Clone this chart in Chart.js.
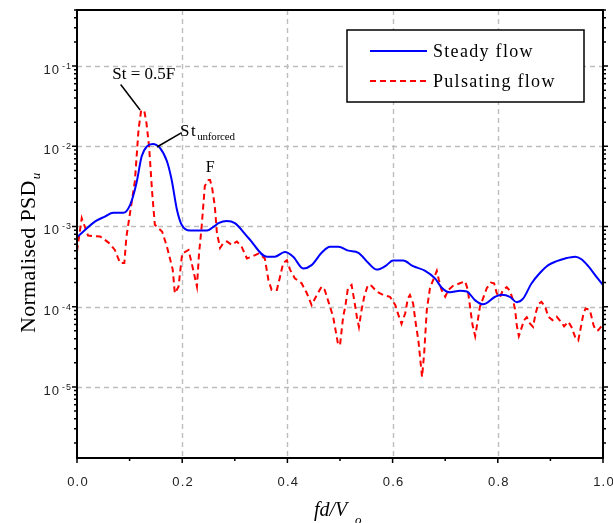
<!DOCTYPE html>
<html>
<head>
<meta charset="utf-8">
<script src="https://cdn.jsdelivr.net/npm/chart.js@4.4.1/dist/chart.umd.min.js"></script>
<style>
    html, body { margin: 0; padding: 0; background: #fff; }
</style>
</head>
<body>
<canvas id="psdChart" width="613" height="523"></canvas>
<script>
// Steady flow (solid blue)
const steadyX = [0.000,0.009,0.034,0.053,0.069,0.088,0.101,0.113,0.123,0.133,0.144,0.158,0.171,0.180,0.190,0.199,0.215,0.247,0.262,0.269,0.285,0.300,0.326,0.361,0.376,0.395,0.411,0.430,0.446,0.465,0.481,0.497,0.516,0.535,0.554,0.570,0.586,0.601,0.620,0.639,0.662,0.681,0.693,0.709,0.728,0.741,0.757,0.772,0.795,0.807,0.823,0.836,0.848,0.864,0.880,0.896,0.912,0.928,0.947,0.959,0.972,0.988,1.000];
const steadyY = [7.4e-4,8.3e-4,1.15e-3,1.33e-3,1.48e-3,1.48e-3,1.86e-3,3.47e-3,7.5e-3,1.0e-2,1.07e-2,9.5e-3,6.5e-3,3.8e-3,1.62e-3,1.05e-3,8.9e-4,8.9e-4,1.02e-3,1.1e-3,1.17e-3,1.1e-3,7.2e-4,4.2e-4,4.2e-4,4.8e-4,4.2e-4,3.0e-4,3.3e-4,4.7e-4,5.6e-4,5.6e-4,5.0e-4,4.7e-4,3.5e-4,2.9e-4,3.2e-4,3.76e-4,3.76e-4,3.2e-4,2.8e-4,2.24e-4,1.74e-4,1.51e-4,1.58e-4,1.55e-4,1.2e-4,1.07e-4,1.33e-4,1.41e-4,1.33e-4,1.14e-4,1.26e-4,1.95e-4,2.63e-4,3.3e-4,3.7e-4,4.0e-4,4.2e-4,3.9e-4,3.2e-4,2.34e-4,1.86e-4];

// Pulsating flow (dashed red)
const pulsX = [0.000,0.009,0.021,0.044,0.060,0.072,0.082,0.090,0.094,0.101,
    0.110,0.117,0.122,0.128,0.132,0.137,0.143,0.148,0.162,0.171,
    0.182,0.186,0.193,0.200,0.212,0.218,0.228,0.232,0.237,0.243,
    0.250,0.253,0.257,0.262,0.266,0.272,0.278,0.285,0.294,0.304,
    0.313,0.323,0.332,0.345,0.357,0.364,0.370,0.380,0.386,0.392,
    0.399,0.405,0.414,0.427,0.437,0.446,0.456,0.465,0.471,0.479,
    0.487,0.496,0.500,0.506,0.510,0.515,0.522,0.527,0.532,0.536,
    0.541,0.546,0.553,0.560,0.570,0.582,0.595,0.605,0.611,0.617,
    0.624,0.629,0.633,0.639,0.644,0.649,0.654,0.656,0.660,0.665,
    0.671,0.677,0.684,0.688,0.693,0.700,0.706,0.715,0.728,0.738,
    0.743,0.748,0.752,0.757,0.762,0.766,0.772,0.779,0.787,0.793,
    0.798,0.804,0.810,0.817,0.823,0.829,0.833,0.836,0.840,0.845,
    0.850,0.855,0.861,0.867,0.872,0.877,0.883,0.890,0.896,0.904,
    0.912,0.920,0.926,0.934,0.940,0.947,0.953,0.958,0.963,0.967,
    0.975,0.982,0.986,0.991,0.996,1.000];
const pulsY = [4.9e-4,1.27e-3,7.7e-4,7.5e-4,6.3e-4,5.1e-4,3.5e-4,3.5e-4,7.5e-4,1.5e-3,
    3.65e-3,1.62e-2,2.8e-2,2.75e-2,1.96e-2,1.0e-2,2.6e-3,1.05e-3,8.6e-4,5.6e-4,
    2.9e-4,1.47e-4,1.78e-4,4.6e-4,5.1e-4,3.5e-4,1.78e-4,4.6e-4,1.0e-3,3.2e-3,
    3.8e-3,3.8e-3,3.0e-3,1.78e-3,8.3e-4,5.4e-4,6.2e-4,6.5e-4,5.9e-4,6.5e-4,
    5.6e-4,4.0e-4,4.2e-4,4.6e-4,4.0e-4,2.14e-4,1.62e-4,1.62e-4,2.37e-4,3.5e-4,
    3.8e-4,2.9e-4,2.26e-4,1.96e-4,1.47e-4,1.05e-4,1.4e-4,1.78e-4,1.62e-4,1.1e-4,
    7.5e-5,3.5e-5,3.3e-5,7.5e-5,1.0e-4,1.7e-4,1.87e-4,1.21e-4,7.5e-5,5.6e-5,
    9.1e-5,1.33e-4,1.87e-4,1.82e-4,1.54e-4,1.4e-4,1.33e-4,1.05e-4,7.9e-5,6.1e-5,
    8.3e-5,1.27e-4,1.4e-4,1.1e-4,6.2e-5,3.8e-5,1.78e-5,1.33e-5,2.6e-5,9.1e-5,
    1.7e-4,2.15e-4,2.8e-4,2.15e-4,1.62e-4,1.33e-4,1.62e-4,1.82e-4,1.96e-4,2.07e-4,
    1.62e-4,9.1e-5,5.9e-5,4.3e-5,6.8e-5,1.0e-4,1.27e-4,1.7e-4,2.0e-4,1.96e-4,
    1.47e-4,1.31e-4,1.62e-4,1.75e-4,1.58e-4,1.21e-4,9.1e-5,5.9e-5,4.3e-5,5.4e-5,
    6.8e-5,7.4e-5,6.2e-5,5.6e-5,8.3e-5,1.08e-4,1.15e-4,1.0e-4,7.5e-5,6.8e-5,
    7.5e-5,6.5e-5,5.7e-5,6.5e-5,5.6e-5,4.2e-5,3.8e-5,5.6e-5,8.3e-5,9.5e-5,
    9.1e-5,5.9e-5,5.1e-5,5.1e-5,5.6e-5,5.9e-5];

const seriesLabels = ['Steady flow', 'Pulsating flow'];
const xTickValues = [0, 0.2, 0.4, 0.6, 0.8, 1.0];
const xMinorValues = [0.1, 0.3, 0.5, 0.7, 0.9];
const yTickExponents = [-1, -2, -3, -4, -5];
const yMin = 1.3e-6;
const yMax = 0.5;

// Annotation texts, anchored in data coordinates
const annotations = [
    { text: 'St = 0.5F', x: 0.127, y: 0.0696, align: 'center', from: [0.083, 0.059], to: [0.120, 0.0283] },
    { text: 'St', sub: 'unforced', x: 0.196, y: 0.0136, align: 'left', from: [0.199, 0.0148], to: [0.152, 0.0098] },
    { text: 'F', x: 0.253, y: 0.00473, align: 'center' }
];

const toPoints = (xs, ys) => xs.map((v, i) => ({ x: v, y: ys[i] }));

function text(ctx, str, x, y, font, align, spacing) {
    ctx.font = font;
    ctx.textAlign = align || 'left';
    ctx.textBaseline = 'alphabetic';
    ctx.letterSpacing = spacing || '0px';
    ctx.fillText(str, x, y);
    ctx.letterSpacing = '0px';
}

const psdDecor = {
    id: 'psdDecor',
    beforeDatasetsDraw(chart) {
        const { ctx, chartArea: a, scales: { x, y } } = chart;
        ctx.save();
        ctx.strokeStyle = '#bdbdbd';
        ctx.lineWidth = 1.4;
        ctx.setLineDash([5, 4]);
        xTickValues.forEach(v => {
            if (v <= 0 || v >= 1) return;
            const px = Math.round(x.getPixelForValue(v)) + 0.5;
            ctx.beginPath(); ctx.moveTo(px, a.top); ctx.lineTo(px, a.bottom); ctx.stroke();
        });
        yTickExponents.forEach(e => {
            const py = Math.round(y.getPixelForValue(Math.pow(10, e))) + 0.5;
            ctx.beginPath(); ctx.moveTo(a.left, py); ctx.lineTo(a.right, py); ctx.stroke();
        });
        ctx.restore();
    },
    afterDatasetsDraw(chart) {
        const { ctx, chartArea: a, scales: { x, y } } = chart;
        ctx.save();
        ctx.fillStyle = '#000';
        ctx.strokeStyle = '#000';

        // frame
        ctx.lineWidth = 2;
        ctx.strokeRect(a.left, a.top, a.right - a.left, a.bottom - a.top);

        // log ticks on left and right
        ctx.lineWidth = 1.5;
        for (let e = -7; e <= 0; e++) {
            for (let m = 1; m <= 9; m++) {
                const v = m * Math.pow(10, e);
                if (v < yMin || v > yMax) continue;
                const py = y.getPixelForValue(v);
                const len = m === 1 ? 5 : 3;
                ctx.beginPath();
                ctx.moveTo(a.left - len, py); ctx.lineTo(a.left, py);
                ctx.moveTo(a.right, py); ctx.lineTo(a.right + len, py);
                ctx.stroke();
            }
        }
        // x ticks
        xTickValues.concat(xMinorValues).forEach(v => {
            const px = x.getPixelForValue(v);
            const len = xMinorValues.includes(v) ? 3 : 5;
            ctx.beginPath(); ctx.moveTo(px, a.bottom); ctx.lineTo(px, a.bottom + len); ctx.stroke();
        });

        // tick labels
        ctx.fillStyle = '#222';
        xTickValues.forEach(v => {
            text(ctx, v.toFixed(1), x.getPixelForValue(v) + 1, a.bottom + 28, '13px "Liberation Sans", Arial, sans-serif', 'center', '1.2px');
        });
        yTickExponents.forEach(e => {
            const py = y.getPixelForValue(Math.pow(10, e));
            text(ctx, '10', a.left - 17, py + 8, '13px "Liberation Sans", Arial, sans-serif', 'right', '1px');
            text(ctx, '-' + Math.abs(e), a.left - 15, py + 3, '9px "Liberation Sans", Arial, sans-serif', 'left', '1px');
        });

        // axis titles
        ctx.fillStyle = '#000';
        text(ctx, 'fd/V', 314, 516, 'italic 20px "Liberation Serif", "Times New Roman", serif', 'left');
        text(ctx, 'o', 355, 524, 'italic 13px "Liberation Serif", "Times New Roman", serif', 'left');

        ctx.save();
        ctx.translate(35, 333);
        ctx.rotate(-Math.PI / 2);
        text(ctx, 'Normalised PSD', 0, 0, '22px "Liberation Serif", "Times New Roman", serif', 'left', '0.3px');
        ctx.font = '22px "Liberation Serif", "Times New Roman", serif';
        ctx.letterSpacing = '0.3px';
        const w = ctx.measureText('Normalised PSD').width;
        text(ctx, 'u', w + 1, 5, 'italic 13px "Liberation Serif", "Times New Roman", serif', 'left');
        ctx.restore();

        // annotations
        ctx.lineWidth = 1.5;
        annotations.forEach(an => {
            const px = x.getPixelForValue(an.x);
            const py = y.getPixelForValue(an.y);
            if (an.sub) {
                text(ctx, an.text, px, py, '17px "Liberation Serif", "Times New Roman", serif', 'left', '1.5px');
                ctx.font = '17px "Liberation Serif", "Times New Roman", serif';
                ctx.letterSpacing = '1.5px';
                const tw = ctx.measureText(an.text).width;
                ctx.letterSpacing = '0px';
                text(ctx, an.sub, px + tw, py + 4, '11px "Liberation Serif", "Times New Roman", serif', 'left', '-0.2px');
            } else {
                text(ctx, an.text, px, py, (an.text === 'F' ? '16px' : '17px') + ' "Liberation Serif", "Times New Roman", serif', an.align);
            }
            if (an.from) {
                ctx.beginPath();
                ctx.moveTo(x.getPixelForValue(an.from[0]), y.getPixelForValue(an.from[1]));
                ctx.lineTo(x.getPixelForValue(an.to[0]), y.getPixelForValue(an.to[1]));
                ctx.stroke();
            }
        });

        // legend
        const lx = a.right - 256, ly = a.top + 20, lw = 237, lh = 72;
        ctx.fillStyle = '#fff';
        ctx.fillRect(lx, ly, lw, lh);
        ctx.lineWidth = 1.5;
        ctx.strokeRect(lx, ly, lw, lh);
        const sets = chart.data.datasets;
        seriesLabels.forEach((lab, i) => {
            const rowY = ly + 21 + i * 30;
            ctx.strokeStyle = sets[i].borderColor;
            ctx.lineWidth = 2;
            ctx.setLineDash(sets[i].borderDash || []);
            ctx.beginPath(); ctx.moveTo(lx + 23, rowY); ctx.lineTo(lx + 80, rowY); ctx.stroke();
            ctx.setLineDash([]);
            ctx.fillStyle = '#000';
            text(ctx, lab, lx + 86, rowY + 6, '18px "Liberation Serif", "Times New Roman", serif', 'left', '1.3px');
        });

        ctx.restore();
    }
};

const ctx = document.getElementById('psdChart').getContext('2d');
new Chart(ctx, {
    type: 'line',
    data: {
        datasets: [{
            label: seriesLabels[0],
            data: toPoints(steadyX, steadyY),
            borderColor: '#0000ff',
            borderWidth: 2,
            pointRadius: 0,
            cubicInterpolationMode: 'monotone',
            fill: false
        }, {
            label: seriesLabels[1],
            data: toPoints(pulsX, pulsY),
            borderColor: '#ff0000',
            borderWidth: 2,
            borderDash: [6, 4],
            pointRadius: 0,
            tension: 0,
            fill: false
        }]
    },
    options: {
        responsive: false,
        animation: false,
        layout: { padding: { left: 77, right: 10, top: 10, bottom: 65 } },
        scales: {
            x: { type: 'linear', min: 0, max: 1, display: false },
            y: { type: 'logarithmic', min: yMin, max: yMax, bounds: 'data', display: false }
        },
        plugins: {
            legend: { display: false },
            tooltip: { enabled: false }
        }
    },
    plugins: [psdDecor]
});
</script>
</body>
</html>
